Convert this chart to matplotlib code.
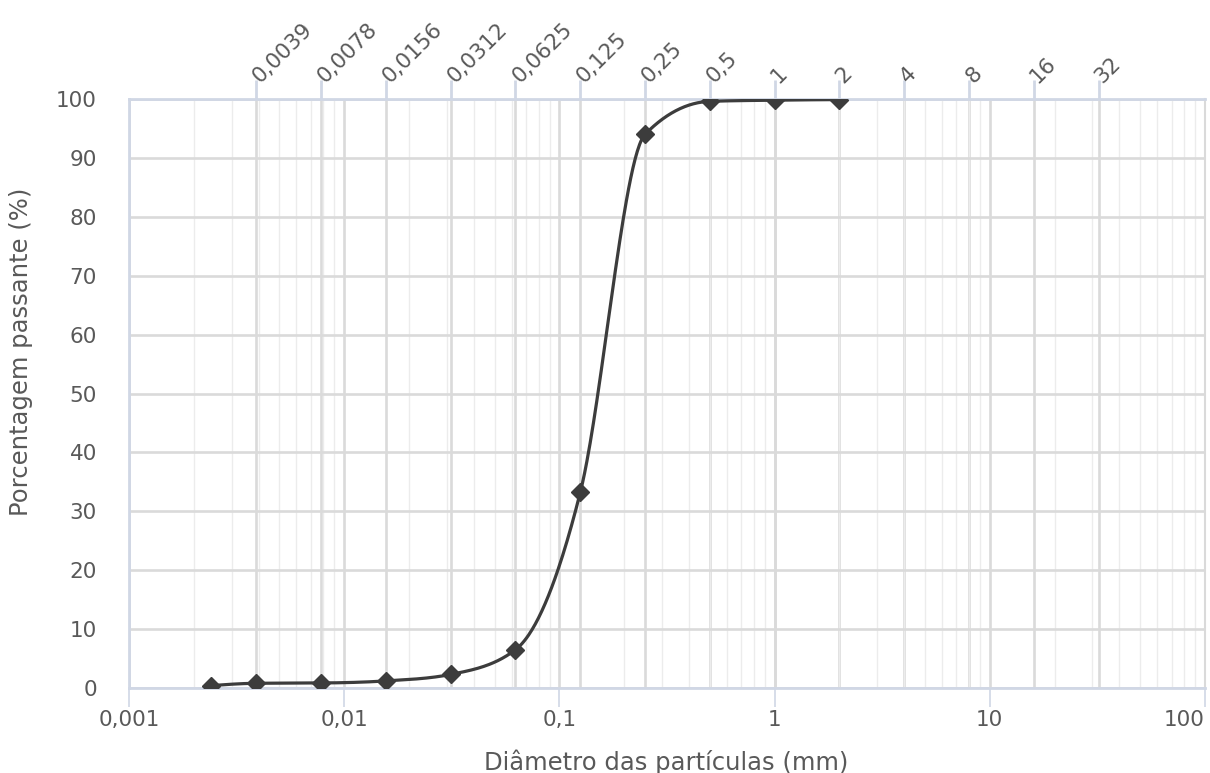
import numpy as np
import matplotlib
matplotlib.use("Agg")
import matplotlib.pyplot as plt
from matplotlib.ticker import FixedLocator, NullFormatter, LogLocator

plt.rcParams['font.family'] = ['DejaVu Sans']

# Data
diam = [0.0024, 0.0039, 0.0078, 0.0156, 0.0312, 0.0625, 0.125, 0.25, 0.5, 1, 2]
passing = [0.4, 0.8, 0.85, 1.2, 2.3, 6.5, 33.2, 94.0, 99.6, 99.8, 99.9]
top_ticks = [0.0039, 0.0078, 0.0156, 0.0312, 0.0625, 0.125, 0.25, 0.5, 1, 2, 4, 8, 16, 32]
top_labels = ["0,0039", "0,0078", "0,0156", "0,0312", "0,0625", "0,125", "0,25",
              "0,5", "1", "2", "4", "8", "16", "32"]
bottom_ticks = [0.001, 0.01, 0.1, 1, 10, 100]
bottom_labels = ["0,001", "0,01", "0,1", "1", "10", "100"]
y_ticks = list(range(0, 101, 10))

TXT = '#595959'
AXC = '#d0d7e5'
GRID = '#dadada'
MINOR = '#ececec'
LINE = '#3c3c3c'
FS = 15.5
FSL = 17.5
W, H = 1210, 773

fig = plt.figure(figsize=(W / 100, H / 100), dpi=100)
ax = fig.add_axes([129 / W, 1 - 688 / H, (1205 - 129) / W, (688 - 99) / H])
ax.set_xscale('log')
ax.set_xlim(0.001, 100)
ax.set_ylim(0, 100)

# Monotone cubic smoothing (monotone in x), computed in display space
P = ax.transData.transform(np.column_stack([diam, passing]))
px, py = P[:, 0], P[:, 1]
n = len(px)
h = np.diff(px)
s = np.diff(py) / h
tang = np.zeros(n)
for i in range(1, n - 1):
    p = (s[i - 1] * h[i] + s[i] * h[i - 1]) / (h[i - 1] + h[i])
    tang[i] = (np.sign(s[i - 1]) + np.sign(s[i])) * min(abs(s[i - 1]), abs(s[i]), 0.5 * abs(p))
tang[0] = (3 * s[0] - tang[1]) / 2
tang[-1] = (3 * s[-1] - tang[-2]) / 2
t = np.linspace(0, 1, 60)[:, None]
segs = []
for i in range(n - 1):
    dx = h[i] / 3
    p0 = np.array([px[i], py[i]])
    p3 = np.array([px[i + 1], py[i + 1]])
    b1 = np.array([px[i] + dx, py[i] + dx * tang[i]])
    b2 = np.array([px[i + 1] - dx, py[i + 1] - dx * tang[i + 1]])
    seg = (1 - t) ** 3 * p0 + 3 * (1 - t) ** 2 * t * b1 + 3 * (1 - t) * t ** 2 * b2 + t ** 3 * p3
    segs.append(seg)
curve = ax.transData.inverted().transform(np.vstack(segs))

# grids
ax.xaxis.set_minor_locator(LogLocator(base=10, subs=np.arange(2, 10)))
ax.xaxis.set_minor_formatter(NullFormatter())
ax.grid(which='minor', axis='x', color=MINOR, linewidth=1.0, zorder=0)
ax.set_yticks(y_ticks)
ax.grid(which='major', axis='y', color=GRID, linewidth=1.9, zorder=0)
for xv in bottom_ticks:
    ax.axvline(xv, color=GRID, linewidth=1.9, zorder=0.5)
for xv in top_ticks:
    ax.axvline(xv, color=GRID, linewidth=1.9, zorder=0.5)

ax.plot(curve[:, 0], curve[:, 1], color=LINE, linewidth=2.3, zorder=3,
        solid_capstyle='round')
ax.plot(diam, passing, linestyle='none', marker='D', markersize=9.2,
        color=LINE, zorder=4)

ax.set_xticks(bottom_ticks)
ax.set_xticklabels(bottom_labels)
ax.tick_params(axis='x', which='major', direction='out', length=14, width=1.2,
               color=AXC, labelcolor=TXT, labelsize=FS, pad=2)
ax.tick_params(axis='x', which='minor', length=0)
ax.tick_params(axis='y', length=0, labelcolor=TXT, labelsize=FS, pad=23)
labs = ax.get_xticklabels()
labs[-1].set_horizontalalignment('right')
for sp in ['left', 'bottom', 'top']:
    ax.spines[sp].set_color(AXC)
    ax.spines[sp].set_linewidth(2.0)
ax.spines['right'].set_color(GRID)
ax.spines['right'].set_linewidth(1.5)

fig.text(666 / W, 1 - 770 / H, 'Diâmetro das partículas (mm)', color=TXT,
         fontsize=FSL, ha='center', va='baseline')
fig.text(21 / W, 1 - 352 / H, 'Porcentagem passante (%)', color=TXT,
         fontsize=FSL, ha='center', va='center', rotation=90)

# top axis
top = ax.secondary_xaxis('top')
top.xaxis.set_major_locator(FixedLocator(top_ticks))
top.xaxis.set_minor_locator(FixedLocator([]))
top.set_xticks(top_ticks)
top.set_xticklabels(top_labels, rotation=45, ha='left', va='center',
                    rotation_mode='anchor')
top.tick_params(axis='x', direction='out', length=14, width=2.0, color=AXC,
                labelcolor=TXT, labelsize=FS, pad=0)
top.spines['top'].set_visible(False)

fig.savefig('out.png', dpi=100)
